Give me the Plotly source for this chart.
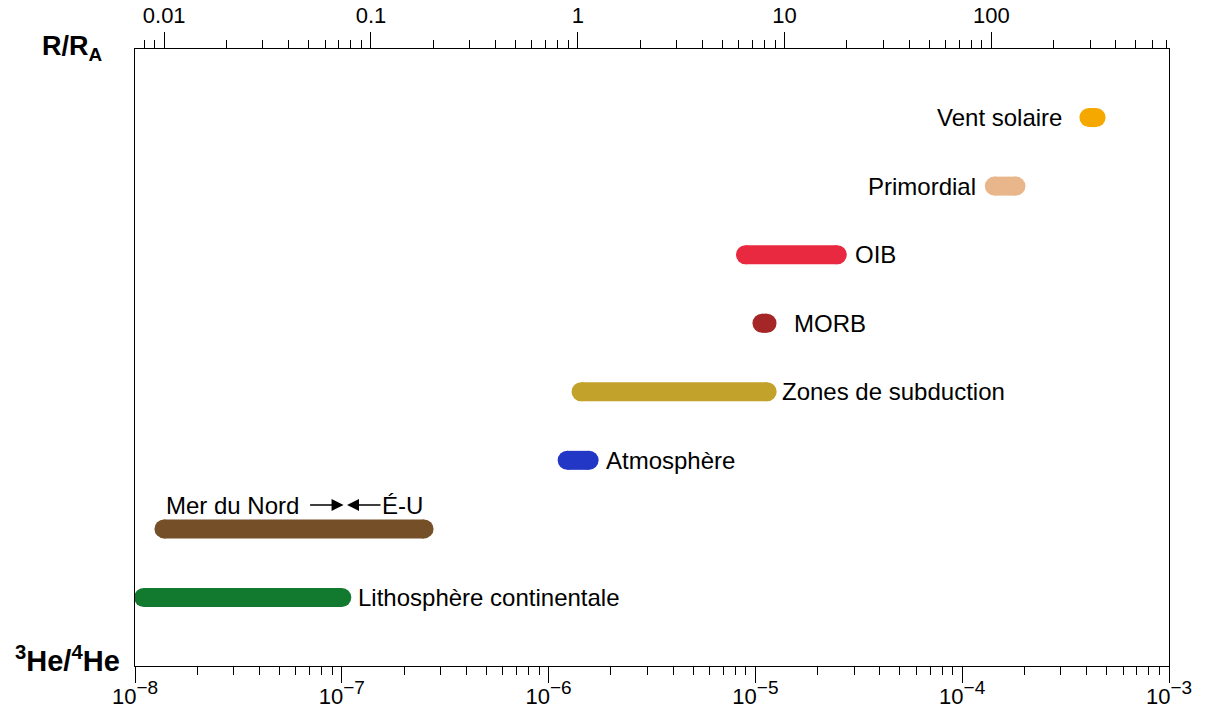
import numpy as np
import plotly.graph_objects as go

# --- data (3He/4He ratio ranges) ---
names = ["Lithosphère continentale", "Mer du Nord / É-U", "Atmosphère", "Zones de subduction",
         "MORB", "OIB", "Primordial", "Vent solaire"]
low = [1.10e-8, 1.38e-8, 1.23e-6, 1.435e-6, 1.076e-5, 8.95e-6, 1.43e-4, 4.10e-4]
high = [1.00e-7, 2.50e-7, 1.57e-6, 1.14e-5, 1.138e-5, 2.49e-5, 1.82e-4, 4.44e-4]
colors = ["#127A2F", "#744F28", "#2337C6", "#C3A22B", "#A52626", "#E8293F", "#E8B68A", "#F5A800"]
R_A = 1.384e-6  # atmospheric 3He/4He

bottom_ticks = [1e-8, 1e-7, 1e-6, 1e-5, 1e-4, 1e-3]
bottom_exp = ["−8", "−7", "−6", "−5", "−4", "−3"]
top_ticks = [0.01, 0.1, 1, 10, 100]
top_text = ["0.01", "0.1", "1", "10", "100"]

FONT = "Liberation Sans, Arial, Helvetica, sans-serif"
W = 19
LS = 24  # label font size

fig = go.Figure()
for i, (lo, hi, c) in enumerate(zip(low, high, colors)):
    fig.add_trace(go.Scatter(
        x=[lo, hi], y=[i, i], mode="lines+markers",
        line=dict(color=c, width=W),
        marker=dict(color=c, size=W, line=dict(width=0)),
        hoverinfo="skip", showlegend=False, cliponaxis=False))

# invisible companion trace so the top R/RA axis is drawn
fig.add_trace(go.Scatter(x=[v / R_A for v in low], y=list(range(len(low))), xaxis="x2",
                         mode="markers", marker=dict(opacity=0), hoverinfo="skip",
                         showlegend=False))

def lab(text, x, y, anchor, shift):
    fig.add_annotation(x=np.log10(x), y=y, xref="x", yref="y", text=text, showarrow=False,
                       xanchor=anchor, yanchor="middle", xshift=shift,
                       font=dict(family=FONT, size=LS, color="black"))

lab("Lithosphère continentale", high[0], 0, "left", 14)
lab("Atmosphère", high[2], 2, "left", 15)
lab("Zones de subduction", high[3], 3, "left", 13)
lab("MORB", high[4], 4, "left", 25)
lab("OIB", high[5], 5, "left", 16)
lab("Primordial", low[6], 6, "right", -16)
lab("Vent solaire", low[7], 7, "right", -25)

# Mer du Nord / É-U label with arrows
fig.add_annotation(x=np.log10(low[1]), y=1, xref="x", yref="y", text="Mer du Nord", showarrow=False,
                   xanchor="left", yanchor="middle", xshift=0, yshift=23,
                   font=dict(family=FONT, size=LS, color="black"))
fig.add_annotation(x=np.log10(high[1]), y=1, xref="x", yref="y", text="É-U", showarrow=False,
                   xanchor="right", yanchor="middle", xshift=1, yshift=23,
                   font=dict(family=FONT, size=LS, color="black"))
fig.add_annotation(x=np.log10(1.02e-7), y=1, xref="x", yref="y", text="", showarrow=True,
                   ax=-35, ay=0, yshift=24, arrowhead=2, arrowsize=1.6, arrowwidth=1.5,
                   arrowcolor="black")
fig.add_annotation(x=np.log10(1.06e-7), y=1, xref="x", yref="y", text="", showarrow=True,
                   ax=35, ay=0, yshift=24, arrowhead=2, arrowsize=1.6, arrowwidth=1.5,
                   arrowcolor="black")

L, R, T, B = 135, 36, 49, 45
PW, PH = 1205 - L - R, 711 - T - B

def px_to_paper(x, y):
    return (x - L) / PW, 1 - (y - T) / PH

x1, y1 = px_to_paper(72, 48)
fig.add_annotation(x=x1, y=y1, xref="paper", yref="paper", text="<b>R/R<sub>A</sub></b>",
                   showarrow=False, xanchor="center", yanchor="middle",
                   font=dict(family=FONT, size=27, color="black"))
x2, y2 = px_to_paper(67, 659)
fig.add_annotation(x=x2, y=y2, xref="paper", yref="paper",
                   text="<b><sup>3</sup>He/<sup>4</sup>He</b>", showarrow=False,
                   xanchor="center", yanchor="middle",
                   font=dict(family=FONT, size=29, color="black"))

def minor_vals(lo_dec, hi_dec):
    return [k * 10.0 ** d for d in range(lo_dec, hi_dec + 1) for k in range(2, 10)]

bottom_text = ["10<sup><span style='font-size:19px'>%s</span></sup>" % e for e in bottom_exp]

xr = [np.log10(1e-8), np.log10(1e-3)]
fig.update_layout(
    width=1205, height=711,
    margin=dict(l=L, r=R, t=T, b=B, autoexpand=False),
    paper_bgcolor="white", plot_bgcolor="white",
    font=dict(family=FONT, size=20, color="black"),
    xaxis=dict(type="log", range=xr, showgrid=False, zeroline=False, automargin=False,
               showline=True, linecolor="black", linewidth=1.3,
               tickmode="array", tickvals=bottom_ticks, ticktext=bottom_text,
               ticks="outside", ticklen=16, tickwidth=1, tickcolor="black",
               ticklabelstandoff=-6,
               tickfont=dict(family=FONT, size=22, color="black"),
               minor=dict(ticks="outside", ticklen=8, tickwidth=1, tickcolor="black",
                          tickmode="array", tickvals=minor_vals(-8, -4), showgrid=False)),
    xaxis2=dict(type="log", overlaying="x", side="top", anchor="y", automargin=False,
                range=[xr[0] - np.log10(R_A), xr[1] - np.log10(R_A)],
                showgrid=False, zeroline=False, showline=True, linecolor="black", linewidth=1.3,
                tickmode="array", tickvals=top_ticks, ticktext=top_text,
                ticks="outside", ticklen=16, tickwidth=1, tickcolor="black",
                tickfont=dict(family=FONT, size=22, color="black"),
                minor=dict(ticks="outside", ticklen=8, tickwidth=1, tickcolor="black",
                           tickmode="array", tickvals=minor_vals(-3, 2), showgrid=False)),
    yaxis=dict(range=[-1, 8], showgrid=False, zeroline=False, showticklabels=False,
               automargin=False, ticks="", showline=True, mirror=True,
               linecolor="black", linewidth=1.3),
)

fig.write_html("out.html", config={"displayModeBar": False},
               post_script="document.body.style.margin='0';")
